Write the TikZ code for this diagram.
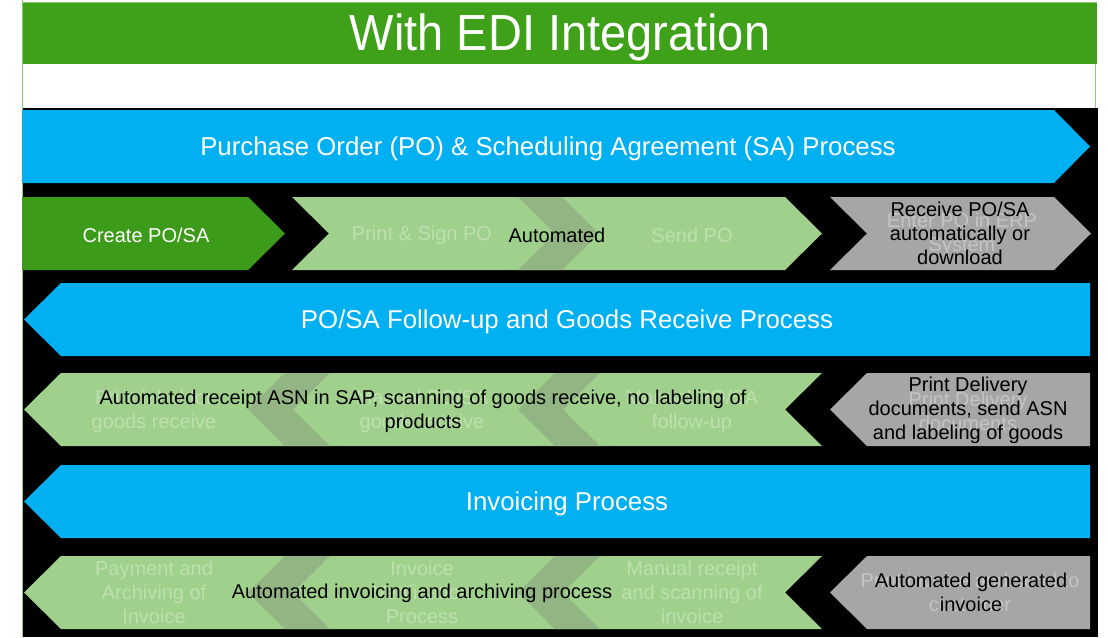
\documentclass[tikz,border=0pt]{standalone}
\usepackage{fontspec}
\setmainfont{Liberation Sans}
\definecolor{banner}{HTML}{3FA01A}
\definecolor{dgreen}{HTML}{3D9B1A}
\definecolor{lgreen}{HTML}{A0D18C}
\definecolor{band}{HTML}{93B584}
\definecolor{bluebar}{HTML}{00B0F0}
\definecolor{grayc}{HTML}{A6A6A6}
\definecolor{ghostg}{HTML}{BEE0AF}
\definecolor{ghostgr}{HTML}{C4C4C4}
\definecolor{frameline}{HTML}{8CCB6E}
\tikzset{
  bodytxt/.style={font=\fontsize{20}{24}\selectfont, align=center, inner sep=0pt},
  headtxt/.style={font=\fontsize{25.8}{30}\selectfont, text=white, inner sep=0pt},
  ghostgreen/.style={bodytxt, text=ghostg},
  ghostgray/.style={bodytxt, text=ghostgr},
  blacktxt/.style={bodytxt, text=black},
}
\begin{document}
\begin{tikzpicture}[x=1pt,y=-1pt]
\useasboundingbox (0,0) rectangle (1108,637);
\fill[white] (0,0) rectangle (1108,637);
% frame
\fill[black] (22,108) rectangle (1098,637);
\fill[banner] (22,2) rectangle (1097,64);
\draw[frameline, line width=1pt] (22,0) -- (22,637);
\draw[frameline, line width=1pt] (22,2) -- (1097,2);
\draw[frameline, line width=1pt] (1095,64) -- (1095,108);
\node[font=\fontsize{47}{50}\selectfont, text=white, inner sep=0pt, yscale=1.08] (title) at (560,37) {With EDI Integration};

% blue bar 1
\fill[bluebar] (22,110) -- (1054,110) -- (1090,146.5) -- (1054,183) -- (22,183) -- cycle;
\node[headtxt] (h1) at (548,148.5) {Purchase Order (PO) \& Scheduling Agreement (SA) Process};

% row 1
\fill[dgreen] (22,197) -- (248,197) -- (285,233.5) -- (248,270) -- (22,270) -- cycle;
\fill[lgreen] (292,197) -- (785,197) -- (822,233.5) -- (785,270) -- (292,270) -- (329,233.5) -- cycle;
\fill[band] (518,197) -- (562,197) -- (599,233.5) -- (562,270) -- (518,270) -- (555,233.5) -- cycle;
\fill[grayc] (830,197) -- (1054,197) -- (1091,233.5) -- (1054,270) -- (830,270) -- (867,233.5) -- cycle;
\node[bodytxt, text=white] (create) at (146,235) {Create PO/SA};
\node[ghostgreen] (print) at (422,235) {Print \& Sign PO};
\node[ghostgreen] (send) at (692,235) {Send PO};
\node[blacktxt] (auto1) at (557,235) {Automated};
\node[ghostgray] (enter) at (962,234) {Enter PO in ERP\\System};
\node[blacktxt] (recv) at (960,233.5) {Receive PO/SA\\automatically or\\download};

% blue bar 2
\fill[bluebar] (24,319.5) -- (61,283) -- (1090,283) -- (1090,356) -- (61,356) -- cycle;
\node[headtxt] (h2) at (567,321.5) {PO/SA Follow-up and Goods Receive Process};

% row 2
\fill[lgreen] (24,409.5) -- (61,373) -- (822,373) -- (785,409.5) -- (822,446) -- (61,446) -- cycle;
\fill[band] (285,373) -- (330,373) -- (293,409.5) -- (330,446) -- (285,446) -- (248,409.5) -- cycle;
\fill[band] (555,373) -- (600,373) -- (563,409.5) -- (600,446) -- (555,446) -- (518,409.5) -- cycle;
\fill[grayc] (830,409.5) -- (867,373) -- (1090,373) -- (1090,446) -- (867,446) -- cycle;
\node[ghostgreen] (lbl) at (154,411) {Print label for\\goods receive};
\node[ghostgreen] (mgr) at (422,411) {Manual PO/SA\\goods receive};
\node[ghostgreen] (fup) at (692,411) {Manual PO/SA\\follow-up};
\node[blacktxt] (auto2) at (423,411) {Automated receipt ASN in SAP, scanning of goods receive, no labeling of\\products};
\node[ghostgray] (pdd) at (968,411) {Print Delivery\\documents};
\node[blacktxt] (pdl) at (968,410) {Print Delivery\\documents, send ASN\\and labeling of goods};

% blue bar 3
\fill[bluebar] (24,501.5) -- (61,465) -- (1090,465) -- (1090,538) -- (61,538) -- cycle;
\node[headtxt] (h3) at (567,503.5) {Invoicing Process};

% row 3
\fill[lgreen] (24,592.5) -- (61,556) -- (822,556) -- (785,592.5) -- (822,629) -- (61,629) -- cycle;
\fill[band] (285,556) -- (330,556) -- (293,592.5) -- (330,629) -- (285,629) -- (248,592.5) -- cycle;
\fill[band] (555,556) -- (600,556) -- (563,592.5) -- (600,629) -- (555,629) -- (518,592.5) -- cycle;
\fill[grayc] (830,592.5) -- (867,556) -- (1090,556) -- (1090,629) -- (867,629) -- cycle;
\node[ghostgreen] (pay) at (154,592) {Payment and\\Archiving of\\Invoice};
\node[ghostgreen] (ivp) at (422,592) {Invoice\\Verification\\Process};
\node[ghostgreen] (mrs) at (692,592) {Manual receipt\\and scanning of\\invoice};
\node[blacktxt] (auto3) at (422,593) {Automated invoicing and archiving process};
\node[ghostgray] (pis) at (970,592) {Print invoice and send to\\customer};
\node[blacktxt] (agi) at (971,592) {Automated generated\\invoice};
\end{tikzpicture}
\end{document}
